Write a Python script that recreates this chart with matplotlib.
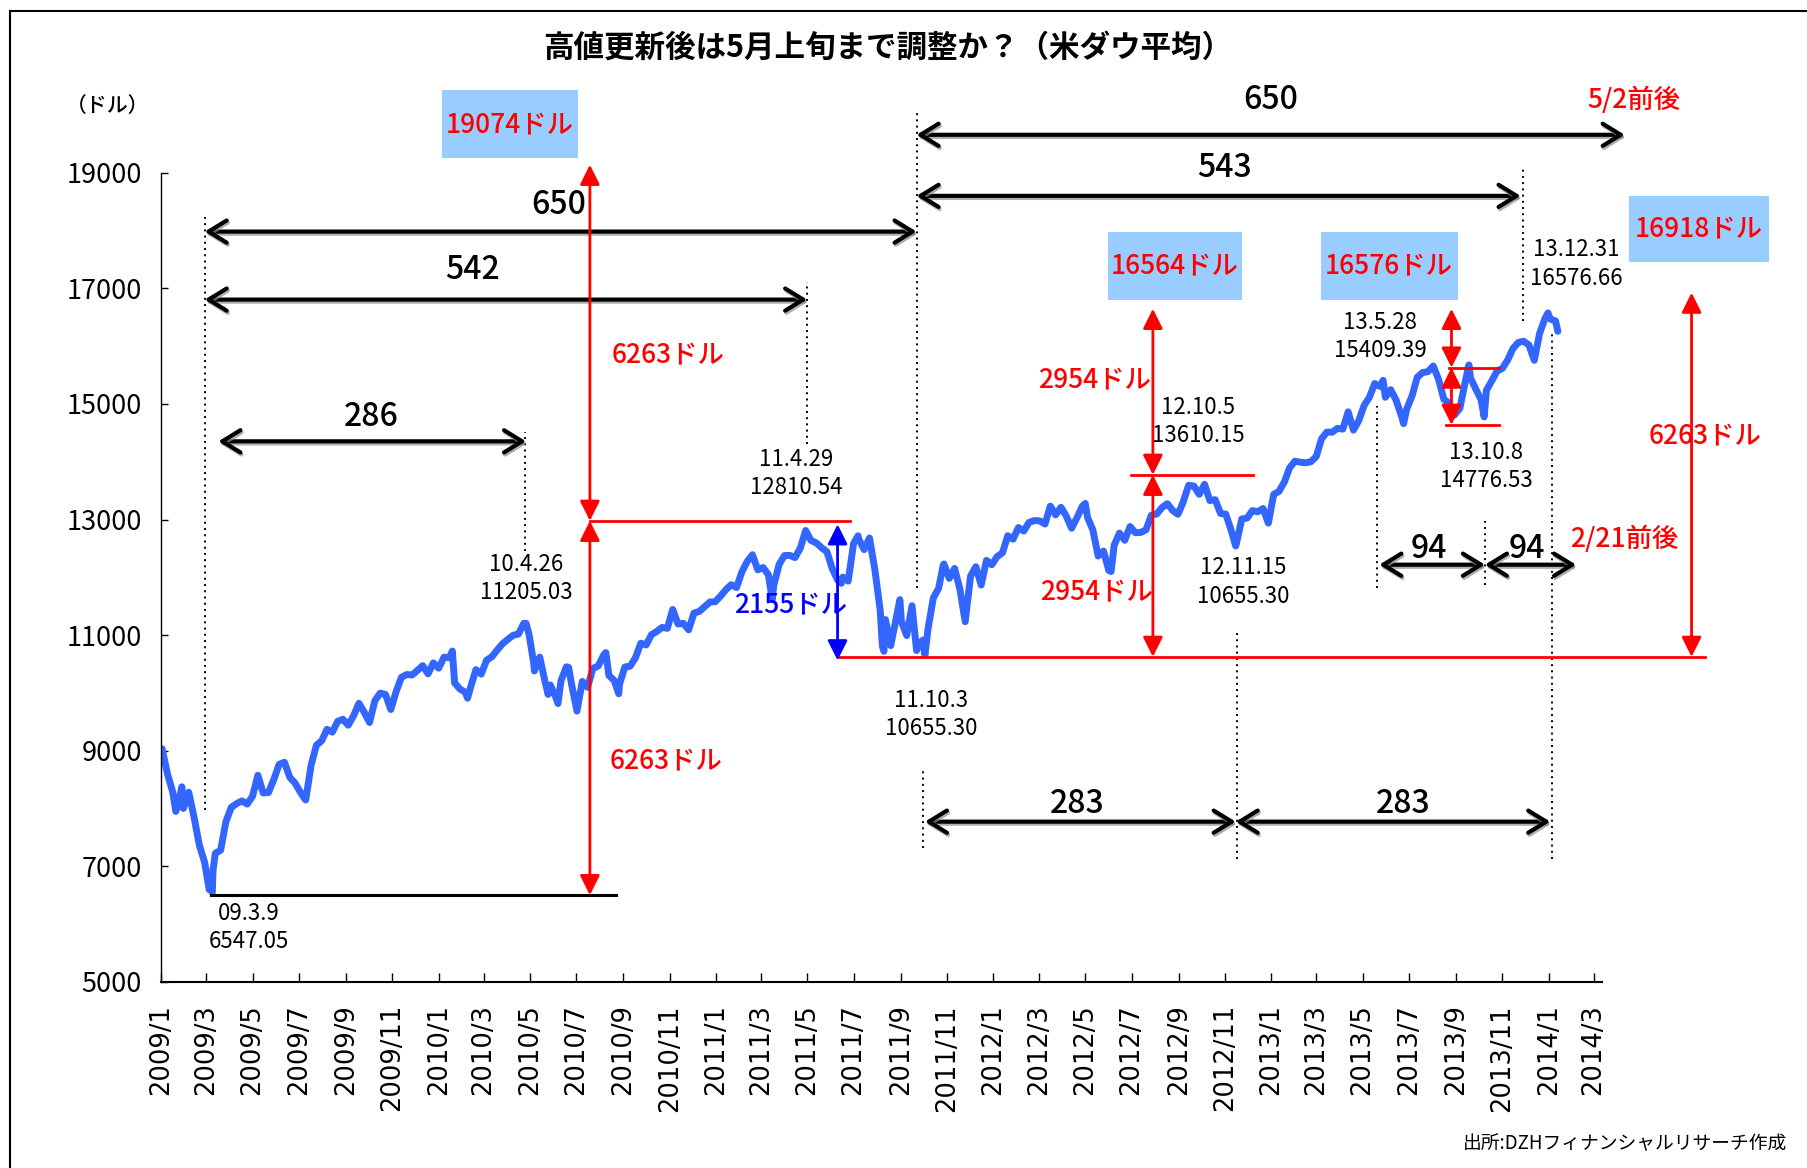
import pandas as pd
import matplotlib
matplotlib.use('Agg')
import matplotlib.pyplot as plt
import matplotlib.dates as mdates
import matplotlib.patheffects as pe
from matplotlib.patches import Rectangle
from matplotlib.ticker import FuncFormatter

# NYダウ 週末終値（年ごと、最初の金曜日から）
dow_2009 = [9034, 8599, 8281, 8077, 8001, 8281, 7850, 7366, 7063, 6627, 7224, 7278, 7776,
            8018, 8083, 8131, 8076, 8212, 8575, 8268, 8277, 8500, 8763, 8799, 8540, 8438,
            8281, 8147, 8744, 9093, 9172, 9370, 9321, 9506, 9544, 9441, 9605, 9820, 9665,
            9488, 9865, 9996, 9972, 9713, 10023, 10270, 10318, 10310, 10389, 10472, 10329, 10520]
dow_2010 = [10428, 10618, 10610, 10173, 10067, 10012, 10099, 10402, 10325, 10566, 10625, 10742,
            10850, 10927, 10997, 11019, 11204, 11009, 10380, 10620, 10193, 10137, 9932, 10211,
            10451, 10144, 9686, 10198, 10098, 10425, 10466, 10654, 10303, 10214, 10151, 10448,
            10463, 10608, 10860, 10830, 11006, 11063, 11133, 11118, 11444, 11193, 11204, 11092,
            11382, 11410, 11492, 11573, 11578]
dow_2011 = [11675, 11787, 11872, 11824, 12092, 12273, 12391, 12130, 12170, 12044, 11859, 12221,
            12377, 12380, 12342, 12506, 12811, 12639, 12596, 12512, 12442, 12151, 11952, 12004,
            11935, 12583, 12657, 12480, 12681, 12143, 11445, 11269, 10818, 11285, 11240, 10992,
            11509, 10771, 10913, 11103, 11644, 11809, 12231, 11983, 12154, 11796, 11232, 12019,
            12184, 11866, 12294, 12218]
dow_2012 = [12360, 12422, 12720, 12660, 12862, 12801, 12950, 12983, 12978, 12922, 13233, 13081,
            13212, 13060, 12850, 13029, 13228, 13038, 12821, 12369, 12455, 12119, 12554, 12767,
            12641, 12880, 12772, 12777, 12823, 13076, 13096, 13208, 13275, 13158, 13091, 13307,
            13593, 13579, 13437, 13610, 13329, 13344, 13107, 13093, 12815, 12588, 13010, 13026,
            13155, 13135, 13191, 12938]
dow_2013 = [13435, 13488, 13650, 13896, 14010, 13993, 13982, 14001, 14090, 14397, 14514, 14512,
            14579, 14565, 14865, 14548, 14713, 14974, 15118, 15354, 15303, 15116, 15248, 15070,
            14799, 14910, 15136, 15464, 15544, 15559, 15658, 15426, 15081, 15011, 14810, 14923,
            15376, 15451, 15258, 15073, 15237, 15400, 15570, 15616, 15762, 15962, 16065, 16086,
            16020, 15755, 16221, 16478]
dow_2014 = [16470, 16437]
first_friday = ['2009-01-02', '2010-01-01', '2011-01-07', '2012-01-06', '2013-01-04', '2014-01-03']

# 高値・安値など注目日の終値
key_dates = ['2009-01-20', '2009-01-28', '2009-03-05', '2009-03-09', '2009-03-10', '2009-07-08',
             '2010-01-19', '2010-02-08', '2010-04-26', '2010-05-06', '2010-05-25', '2010-06-07',
             '2010-06-21', '2010-08-09', '2010-08-26', '2011-03-16', '2011-06-15', '2011-07-07',
             '2011-08-08', '2011-08-10', '2011-08-31', '2011-09-22', '2011-10-03', '2011-10-27',
             '2012-05-01', '2012-06-04', '2012-11-15', '2013-05-28', '2013-06-24', '2013-09-18',
             '2013-10-08', '2013-12-31', '2014-01-13']
key_values = [7949, 8375, 6594, 6547.05, 6926, 8179,
              10725, 9908, 11205.03, 10520, 9974, 9816,
              10443, 10698, 9985, 11613, 11897, 12719,
              10810, 10720, 11614, 10733, 10655.30, 12209,
              13279, 12101, 12542.38, 15409.39, 14660, 15676,
              14776.53, 16576.66, 16257]

parts = []
for start, vals in zip(first_friday, [dow_2009, dow_2010, dow_2011, dow_2012, dow_2013, dow_2014]):
    parts.append(pd.Series(vals, index=pd.date_range(start, periods=len(vals), freq='W-FRI')))
parts.append(pd.Series(key_values, index=pd.to_datetime(key_dates)))
dow = pd.concat(parts)
dow = dow[~dow.index.duplicated(keep='last')].sort_index()

JP = ['Noto Sans CJK JP']
RED = '#FF0000'


def d(s):
    return mdates.date2num(pd.Timestamp(s))


fig = plt.figure(figsize=(18.07, 11.68), dpi=100)
ax = fig.add_axes([0.0893, 0.1594, 0.7972, 0.6926])

ax.plot(dow.index, dow.values, color='#3366FF', lw=5, solid_joinstyle='round',
        solid_capstyle='round', zorder=2)

ax.set_xlim(d('2009-01-01'), d('2014-03-12'))
ax.set_ylim(5000, 19000)
ax.set_yticks(range(5000, 19001, 2000))
ax.xaxis.set_major_locator(mdates.MonthLocator(bymonth=[1, 3, 5, 7, 9, 11]))
ax.xaxis.set_major_formatter(FuncFormatter(
    lambda x, pos: f"{mdates.num2date(x).year}/{mdates.num2date(x).month}"))
for s in ['top', 'right']:
    ax.spines[s].set_visible(False)
ax.spines['left'].set_linewidth(1.0)
ax.spines['bottom'].set_linewidth(1.5)
ax.tick_params(axis='y', direction='in', length=5, width=1, pad=14, labelsize=19.5)
ax.tick_params(axis='x', direction='in', length=6.5, width=1, pad=16, labelsize=18.5,
               labelrotation=90)
for lab in ax.get_yticklabels():
    lab.set_family(JP)

# 外枠
fig.patches.append(Rectangle((0.0055, -0.1), 1.2, 1.0906, transform=fig.transFigure,
                             fill=False, lw=1.5, ec='black'))

fig.text(0.491, 0.959, '高値更新後は5月上旬まで調整か？（米ダウ平均）', ha='center', va='center',
         fontsize=22, fontweight='bold', family=JP)
fig.text(0.0593, 0.909, '（ドル）', ha='center', va='center', fontsize=15, family=JP,
         fontweight='medium')
fig.text(0.989, 0.021, '出所:DZHフィナンシャルリサーチ作成', ha='right', va='center',
         fontsize=13.5, family=JP)

shadow = [pe.SimpleLineShadow(offset=(0.8, -1.5), shadow_color='0.55', alpha=0.7), pe.Normal()]


def harrow(d0, d1, y):
    ax.annotate('', xy=(d(d1), y), xytext=(d(d0), y), annotation_clip=False, zorder=4,
                arrowprops=dict(arrowstyle='<->,head_length=0.65,head_width=0.4', lw=3,
                                color='black', shrinkA=0, shrinkB=0, mutation_scale=20,
                                path_effects=shadow))


def varrow(x, y0, y1, color=RED):
    ax.annotate('', xy=(d(x), y1), xytext=(d(x), y0), annotation_clip=False, zorder=4,
                arrowprops=dict(arrowstyle='<|-|>,head_length=0.6,head_width=0.3', lw=2,
                                color=color, shrinkA=0, shrinkB=0, mutation_scale=20))


def hline(d0, d1, y, color=RED, lw=2):
    ax.plot([d(d0), d(d1)], [y, y], color=color, lw=lw, clip_on=False, zorder=3)


def vdot(x, y0, y1):
    ax.plot([d(x), d(x)], [y0, y1], color='black', lw=1.4, ls=(0, (1, 2.2)),
            clip_on=False, zorder=3)


# 点線
for x, y0, y1 in [('2009-02-27', 7972, 18283), ('2010-04-25', 12459, 14513),
                  ('2011-05-01', 14314, 17106), ('2011-09-22', 11821, 20097),
                  ('2011-09-30', 7313, 8690), ('2012-11-17', 7134, 11063),
                  ('2013-05-20', 11821, 14972), ('2013-10-09', 11861, 12978),
                  ('2013-11-28', 16428, 19100), ('2014-01-05', 7134, 16248)]:
    vdot(x, y0, y1)

# 日数の矢印
for d0, d1, y in [('2009-02-27', '2011-09-22', 17984), ('2009-02-27', '2011-05-01', 16807),
                  ('2009-03-17', '2010-04-26', 14354), ('2011-09-22', '2014-04-11', 19659),
                  ('2011-09-22', '2013-11-25', 18602), ('2011-10-03', '2012-11-15', 7772),
                  ('2012-11-15', '2014-01-03', 7772), ('2013-05-23', '2013-10-09', 12219),
                  ('2013-10-09', '2014-02-06', 12219)]:
    harrow(d0, d1, y)

for txt, x, y in [('650', '2010-06-08', 18442), ('542', '2010-02-14', 17325),
                  ('286', '2009-10-04', 14773), ('650', '2012-12-31', 20257),
                  ('543', '2012-10-31', 19080), ('283', '2012-04-20', 8071),
                  ('283', '2013-06-24', 8071), ('94', '2013-07-27', 12499),
                  ('94', '2013-12-03', 12499)]:
    ax.text(d(x), y, txt, ha='center', va='center', fontsize=23, family=JP,
            fontweight='medium', zorder=5)

# 値幅の線
hline('2009-03-07', '2010-08-23', 6500, color='black', lw=2.2)
varrow('2010-07-19', 12978, 19140)
varrow('2010-07-19', 6500, 12978)
hline('2010-07-19', '2011-06-27', 12978)
varrow('2011-06-10', 10564, 12918, color='#0000FF')
hline('2011-06-10', '2014-07-26', 10624)
hline('2012-06-30', '2012-12-08', 13775)
varrow('2012-07-29', 13775, 16647)
varrow('2012-07-29', 10624, 13775)
hline('2013-08-23', '2013-10-28', 15630)
hline('2013-08-19', '2013-10-28', 14640)
varrow('2013-08-26', 15630, 16647)
varrow('2013-08-26', 14640, 15630)
varrow('2014-07-08', 10624, 16927)

for txt, x, y in [('6263ドル', '2010-10-30', 15849), ('6263ドル', '2010-10-27', 8829),
                  ('2954ドル', '2012-05-13', 15411), ('2954ドル', '2012-05-16', 11741),
                  ('6263ドル', '2014-07-26', 14453), ('5/2前後', '2014-04-23', 20257),
                  ('2/21前後', '2014-04-11', 12658)]:
    ax.text(d(x), y, txt, ha='center', va='center', fontsize=19, color=RED, family=JP,
            fontweight='medium', zorder=5)
ax.text(d('2011-04-09'), 11522, '2155ドル', ha='center', va='center', fontsize=19,
        color='#0000FF', family=JP, fontweight='medium', zorder=5)

# 目標値の箱
for txt, x, y, w, h in [('19074ドル', '2010-04-05', 19838, 180, 1177),
                        ('16564ドル', '2012-08-27', 17385, 177, 1177),
                        ('16576ドル', '2013-06-05', 17385, 180, 1177),
                        ('16918ドル', '2014-07-18', 18024, 185, 1137)]:
    ax.add_patch(Rectangle((d(x) - w / 2, y - h / 2), w, h, fc='#99CCFF', ec='none',
                           clip_on=False, zorder=4))
    ax.text(d(x), y, txt, ha='center', va='center', fontsize=19, color=RED, family=JP,
            fontweight='medium', zorder=5)

# 日付と終値
for txt, x, y in [('09.3.9\n6547.05', '2009-04-26', 5937),
                  ('10.4.26\n11205.03', '2010-04-26', 11980),
                  ('11.4.29\n12810.54', '2011-04-17', 13795),
                  ('11.10.3\n10655.30', '2011-10-11', 9627),
                  ('12.10.5\n13610.15', '2012-09-27', 14693),
                  ('12.11.15\n10655.30', '2012-11-25', 11921),
                  ('13.5.28\n15409.39', '2013-05-24', 16169),
                  ('13.10.8\n14776.53', '2013-10-11', 13915),
                  ('13.12.31\n16576.66', '2014-02-06', 17425)]:
    ax.text(d(x), y, txt, ha='center', va='center', fontsize=16, family=JP,
            linespacing=1.3, zorder=5)

fig.savefig('out.png', dpi=100)
